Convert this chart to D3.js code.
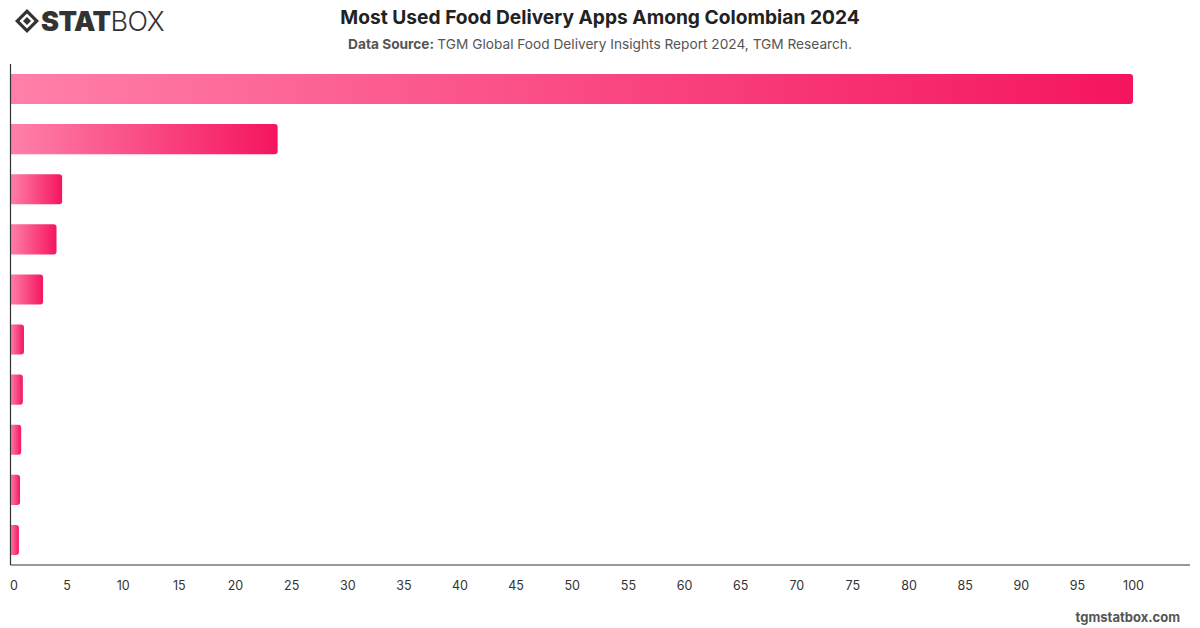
<!DOCTYPE html>
<html>
<head>
<meta charset="utf-8">
<script src="https://cdn.jsdelivr.net/npm/d3@7"></script>
<style>
  body { margin: 0; background: #fff; font-family: Inter, "Noto Sans", sans-serif; }
</style>
</head>
<body>
<svg id="chart" width="1200" height="628"></svg>
<script>
// Bars top to bottom (category labels are not shown in the source chart)
const apps = ["App 1", "App 2", "App 3", "App 4", "App 5", "App 6", "App 7", "App 8", "App 9", "App 10"];
const shares = [100, 23.8, 4.6, 4.1, 2.9, 1.2, 1.1, 0.95, 0.85, 0.75];
const xTicks = d3.range(0, 101, 5);

const W = 1200, H = 628;
const M = { left: 10.5, right: 10, top: 64, bottom: 63 };
const svg = d3.select("#chart");

const x = d3.scaleLinear().domain([0, 100]).range([M.left, 1133]);
const y = d3.scaleBand().domain(apps).range([M.top, H - M.bottom]).paddingInner(0.4).paddingOuter(0.2);

const defs = svg.append("defs");
const grad = defs.append("linearGradient").attr("id", "barGrad")
  .attr("x1", "0").attr("x2", "1").attr("y1", "0").attr("y2", "0");
grad.append("stop").attr("offset", "0%").attr("stop-color", "#ff80a9");
grad.append("stop").attr("offset", "100%").attr("stop-color", "#f5155f");

// bars: square left edge, rounded right end
function barPath(d) {
  const x0 = x(0), x1 = x(d.v), y0 = y(d.k), h = y.bandwidth();
  const r = Math.min(3, (x1 - x0) / 2);
  return `M${x0},${y0}H${x1 - r}Q${x1},${y0} ${x1},${y0 + r}V${y0 + h - r}Q${x1},${y0 + h} ${x1 - r},${y0 + h}H${x0}Z`;
}
svg.append("g").selectAll("path").data(apps.map((k, i) => ({ k, v: shares[i] }))).join("path")
  .attr("d", barPath)
  .attr("fill", "url(#barGrad)");

// axes
svg.append("line").attr("x1", M.left).attr("x2", M.left).attr("y1", M.top).attr("y2", H - M.bottom)
  .attr("stroke", "#333").attr("stroke-width", 1.2);
svg.append("line").attr("x1", M.left).attr("x2", W - M.right).attr("y1", H - M.bottom).attr("y2", H - M.bottom)
  .attr("stroke", "#333").attr("stroke-width", 1.2);

const xAxis = d3.axisBottom(x).tickValues(xTicks).tickSize(0).tickPadding(16);
const gx = svg.append("g").attr("transform", `translate(0,${H - M.bottom})`).call(xAxis);
gx.select(".domain").remove();
gx.selectAll("text").attr("font-size", 12.5).attr("fill", "#333").attr("font-family", "Inter, sans-serif");
gx.selectAll(".tick").filter(d => d === 0).select("text").attr("dx", 3);

// title
svg.append("text").attr("x", 600).attr("y", 24).attr("text-anchor", "middle")
  .attr("font-size", 19.2).attr("font-weight", 700).attr("fill", "#222")
  .text("Most Used Food Delivery Apps Among Colombian 2024");
const sub = svg.append("text").attr("x", 600).attr("y", 49).attr("text-anchor", "middle")
  .attr("font-size", 13.7).attr("fill", "#555");
sub.append("tspan").attr("font-weight", 700).text("Data Source: ");
sub.append("tspan").text("TGM Global Food Delivery Insights Report 2024, TGM Research.");

// footer
svg.append("text").attr("x", 1180).attr("y", 622).attr("text-anchor", "end")
  .attr("font-size", 13).attr("font-weight", 700).attr("fill", "#555").text("tgmstatbox.com");

// logo
const logo = svg.append("g").attr("transform", "translate(15,9)");
logo.append("path").attr("d", "M12,0L24,12L12,24L0,12Z").attr("fill", "#333");
logo.append("path").attr("d", "M12,4.5L19.5,12L12,19.5L4.5,12Z").attr("fill", "#fff");
logo.append("path").attr("d", "M12,8L16,12L12,16L8,12Z").attr("fill", "#333");
const lt = logo.append("text").attr("x", 26).attr("y", 22).attr("font-size", 27).attr("fill", "#333")
  .attr("font-family", "Inter, sans-serif").attr("letter-spacing", -0.5);
lt.append("tspan").attr("font-weight", 900).text("STAT");
lt.append("tspan").attr("font-weight", 300).text("BOX");
</script>
</body>
</html>
